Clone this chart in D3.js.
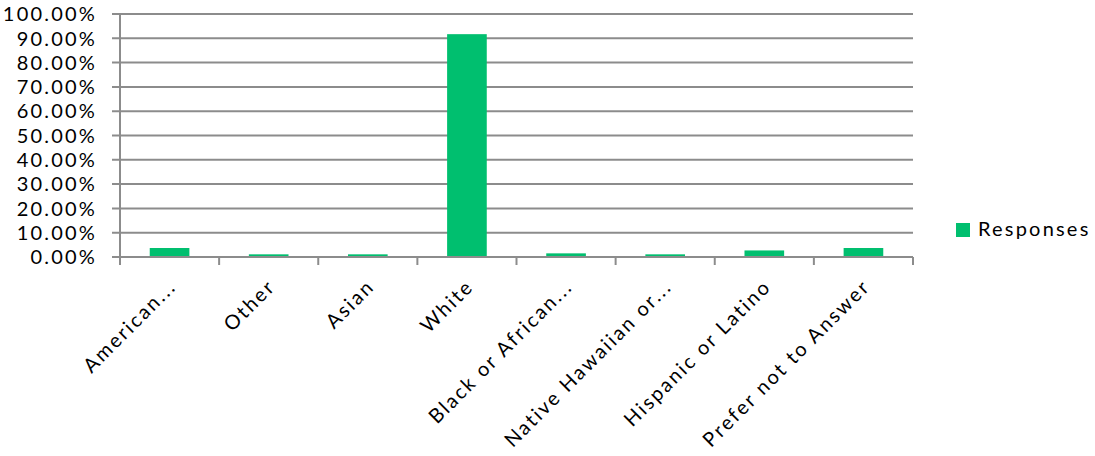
<!DOCTYPE html>
<html>
<head>
<meta charset="utf-8">
<script src="https://cdn.jsdelivr.net/npm/d3@7"></script>
<style>
  html, body { margin: 0; padding: 0; background: #fff; }
  svg { display: block; }
  text { font-family: Lato, "Open Sans", sans-serif; fill: #000; }
</style>
</head>
<body>
<svg id="chart" width="1095" height="456"></svg>
<script>
const categories = ["American...", "Other", "Asian", "White", "Black or African...", "Native Hawaiian or...", "Hispanic or Latino", "Prefer not to Answer"];
const responses = [0.037, 0.011, 0.011, 0.917, 0.015, 0.011, 0.027, 0.037];
const yTicks = [0, 0.1, 0.2, 0.3, 0.4, 0.5, 0.6, 0.7, 0.8, 0.9, 1.0];
const seriesName = "Responses";

(function draw() {
const svg = d3.select("#chart");
const pL = 120, pR = 913, pT = 14, pB = 257;
const gridColor = "#8c8c8c";
const barColor = "#00bf6f";

const x = d3.scaleBand().domain(categories).range([pL, pR]).paddingInner(0.6).paddingOuter(0.3);
const xStep = d3.scaleBand().domain(categories).range([pL, pR]);
const y = d3.scaleLinear().domain([0, 1]).range([pB, pT]);

svg.append("g").selectAll("line").data(yTicks).join("line")
  .attr("x1", pL - 8).attr("x2", pR)
  .attr("y1", d => y(d)).attr("y2", d => y(d))
  .attr("stroke", gridColor).attr("stroke-width", 2);

svg.append("line").attr("x1", pL).attr("x2", pL).attr("y1", pT).attr("y2", pB + 8)
  .attr("stroke", gridColor).attr("stroke-width", 2);

const xTickPos = categories.map(c => xStep(c)).concat([pR]);
svg.append("g").selectAll("line").data(xTickPos).join("line")
  .attr("x1", d => d).attr("x2", d => d)
  .attr("y1", pB).attr("y2", pB + 8)
  .attr("stroke", gridColor).attr("stroke-width", 2);

svg.append("g").selectAll("rect").data(categories).join("rect")
  .attr("x", c => x(c))
  .attr("width", x.bandwidth())
  .attr("y", (c, i) => y(responses[i]))
  .attr("height", (c, i) => pB - y(responses[i]))
  .attr("fill", barColor);

svg.append("line").attr("x1", pL - 8).attr("x2", pR).attr("y1", pB).attr("y2", pB)
  .attr("stroke", gridColor).attr("stroke-width", 2);

svg.append("g").selectAll("text").data(yTicks).join("text")
  .attr("x", 97).attr("y", d => y(d))
  .attr("dy", "0.36em")
  .attr("text-anchor", "end")
  .attr("font-size", 20)
  .attr("letter-spacing", 2.2)
  .text(d => (d * 100).toFixed(2) + "%");

svg.append("g").selectAll("text").data(categories).join("text")
  .attr("transform", c => `translate(${xStep(c) + xStep.bandwidth() / 2 - 2},${pB + 21}) rotate(-45)`)
  .attr("text-anchor", "end")
  .attr("dy", "0.7em")
  .attr("font-size", 20)
  .attr("letter-spacing", 2.2)
  .text(c => c);

svg.append("rect").attr("x", 956).attr("y", 223).attr("width", 14).attr("height", 14).attr("fill", barColor);
svg.append("text").attr("x", 978).attr("y", 236).attr("font-size", 20).attr("letter-spacing", 2.2).text(seriesName);
})();
</script>
</body>
</html>
